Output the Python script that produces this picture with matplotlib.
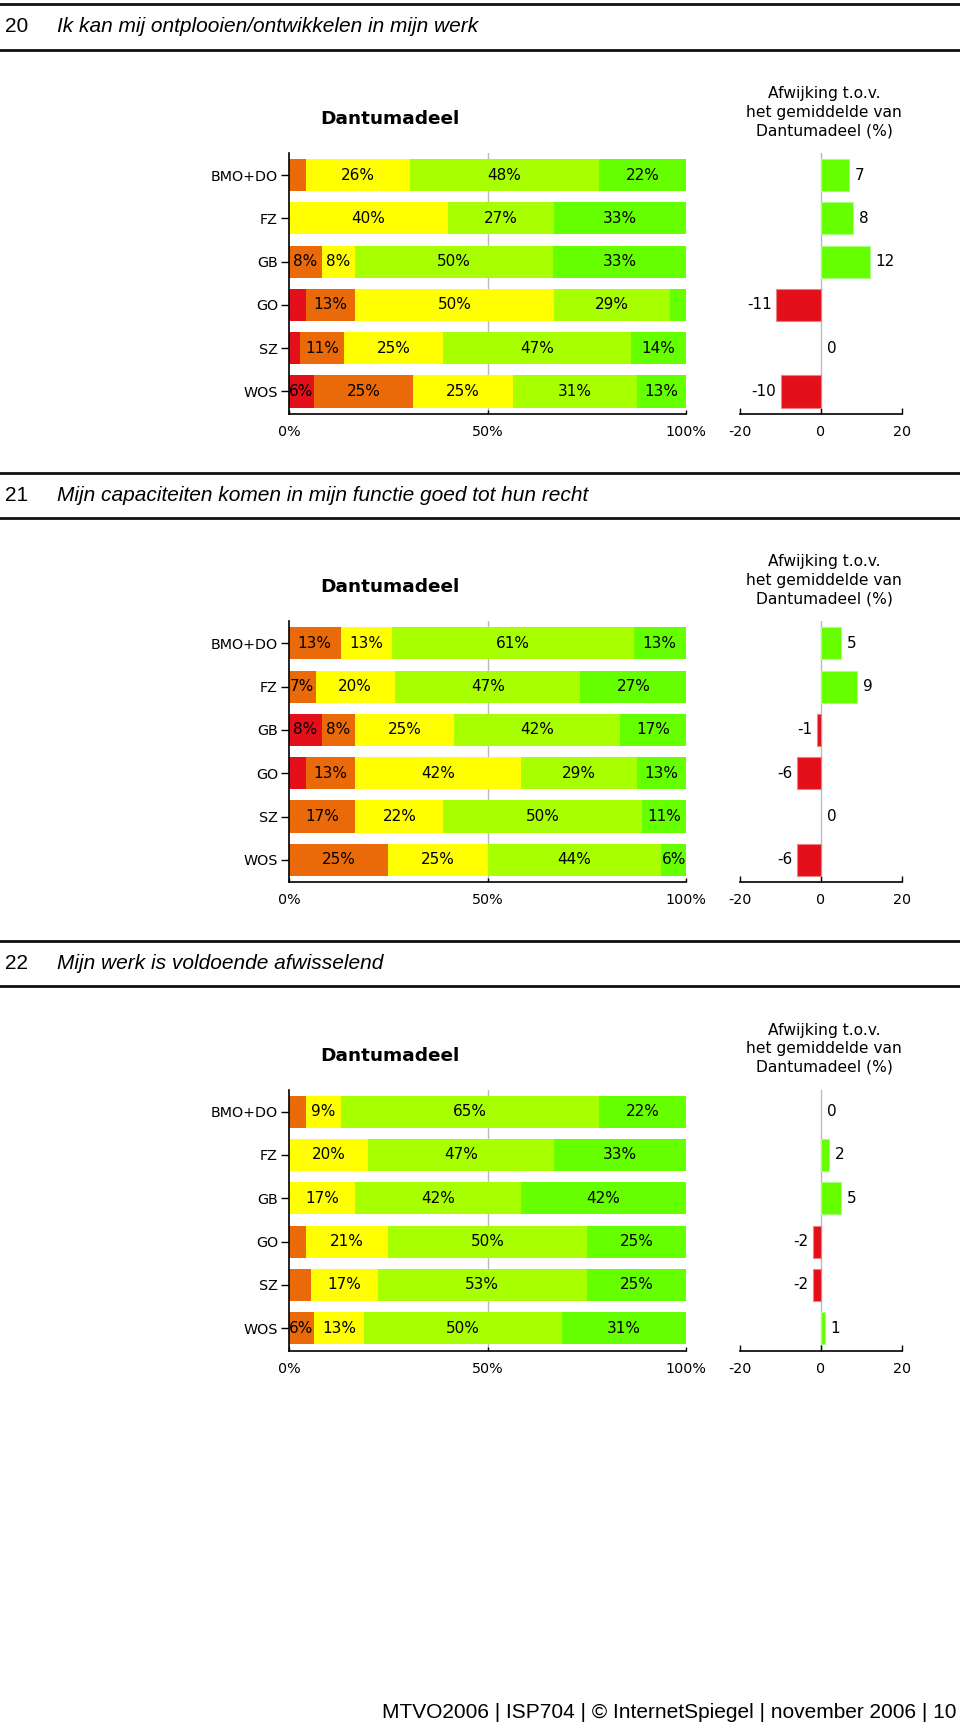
import matplotlib
matplotlib.use("Agg")
import matplotlib.pyplot as plt
from matplotlib.lines import Line2D

W, H = 960, 1728

groups = ["BMO+DO", "FZ", "GB", "GO", "SZ", "WOS"]
# answer categories: very negative .. very positive
cat_colors = ["#e3101b", "#ea6a0a", "#ffff00", "#a8ff00", "#66ff00"]

numbers = ["20", "21", "22"]
questions = ["Ik kan mij ontplooien/ontwikkelen in mijn werk",
             "Mijn capaciteiten komen in mijn functie goed tot hun recht",
             "Mijn werk is voldoende afwisselend"]

# percentage per category, one row per group
q20 = [[0, 4.3, 26.1, 47.8, 21.7],
       [0, 0, 40.0, 26.7, 33.3],
       [0, 8.3, 8.3, 50.0, 33.3],
       [4.2, 12.5, 50.0, 29.2, 4.2],
       [2.8, 11.1, 25.0, 47.2, 13.9],
       [6.3, 25.0, 25.0, 31.3, 12.5]]
q21 = [[0, 13.0, 13.0, 60.9, 13.0],
       [0, 6.7, 20.0, 46.7, 26.7],
       [8.3, 8.3, 25.0, 41.7, 16.7],
       [4.2, 12.5, 41.7, 29.2, 12.5],
       [0, 16.7, 22.2, 50.0, 11.1],
       [0, 25.0, 25.0, 43.8, 6.3]]
q22 = [[0, 4.3, 8.7, 65.2, 21.7],
       [0, 0, 20.0, 46.7, 33.3],
       [0, 0, 16.7, 41.7, 41.7],
       [0, 4.2, 20.8, 50.0, 25.0],
       [0, 5.6, 16.7, 52.8, 25.0],
       [0, 6.3, 12.5, 50.0, 31.3]]

# deviation from the Dantumadeel average (%)
dev20 = [7, 8, 12, -11, 0, -10]
dev21 = [5, 9, -1, -6, 0, -6]
dev22 = [0, 2, 5, -2, -2, 1]

shares = [q20, q21, q22]
devs = [dev20, dev21, dev22]

fig = plt.figure(figsize=(W / 100, H / 100), dpi=100)
fig.patch.set_facecolor("white")


def px_axes(l, t, r, b):
    return fig.add_axes([l / W, 1 - b / H, (r - l) / W, (b - t) / H])


def rule(y):
    fig.add_artist(Line2D([0, 1], [1 - y / H, 1 - y / H], color="#111111",
                          lw=2.0, transform=fig.transFigure))


step = 468.3
ypos = list(range(len(groups)))
fs = 10.3

for k in range(3):
    dy = step * k

    # section header
    rule(4.4 + dy)
    rule(49.6 + dy)
    fig.text(5 / W, 1 - (27 + dy) / H, numbers[k], fontsize=15,
             family="Liberation Sans", va="center", ha="left")
    fig.text(57 / W, 1 - (27 + dy) / H, questions[k], fontsize=15,
             family="Liberation Sans", style="italic", va="center", ha="left")

    # stacked bars
    ax = px_axes(289, 153 + dy, 686, 414 + dy)
    left = [0.0] * len(groups)
    for c in range(5):
        vals = [row[c] for row in shares[k]]
        ax.barh(ypos, vals, left=left, height=0.74, color=cat_colors[c],
                zorder=2)
        for i, v in enumerate(vals):
            if v >= 6:
                ax.text(left[i] + v / 2, i, "%d%%" % int(v + 0.5),
                        ha="center", va="center", fontsize=11, zorder=3)
        left = [a + b for a, b in zip(left, vals)]
    ax.axvline(50, color="#bbbbbb", lw=1, zorder=1)
    ax.set_xlim(0, 100)
    ax.set_ylim(5.52, -0.51)
    ax.set_yticks(ypos)
    ax.set_yticklabels(groups, fontsize=fs)
    ax.set_xticks([0, 50, 100])
    ax.set_xticklabels(["0%", "50%", "100%"], fontsize=fs)
    ax.tick_params(axis="y", direction="out", length=6, width=1, pad=2)
    ax.tick_params(axis="x", direction="in", length=3, width=1, pad=8)
    for s in ["top", "right"]:
        ax.spines[s].set_visible(False)
    for s in ["left", "bottom"]:
        ax.spines[s].set_linewidth(1.2)

    fig.text(390 / W, 1 - (119 + dy) / H, "Dantumadeel", fontsize=13.3,
             fontweight="bold", ha="center", va="center")

    # deviation bars
    ax2 = px_axes(740, 153 + dy, 902, 414 + dy)
    d = devs[k]
    dcol = ["#66ff00" if v > 0 else "#e3101b" for v in d]
    dedge = ["#a6ff80" if v > 0 else "#f08080" for v in d]
    dlw = [0.8 if v != 0 else 0 for v in d]
    ax2.barh(ypos, d, height=0.74, color=dcol, edgecolor=dedge, lw=dlw,
             zorder=2)
    ax2.axvline(0, color="#bbbbbb", lw=1, zorder=1)
    for i, v in enumerate(d):
        if v < 0:
            ax2.annotate(str(v), (v, i), xytext=(-3, 0),
                         textcoords="offset points", ha="right",
                         va="center", fontsize=11)
        else:
            ax2.annotate(str(v), (v, i), xytext=(4, 0),
                         textcoords="offset points", ha="left",
                         va="center", fontsize=11)
    ax2.set_xlim(-20, 20)
    ax2.set_ylim(5.52, -0.51)
    ax2.set_yticks([])
    ax2.set_xticks([-20, 0, 20])
    ax2.set_xticklabels(["-20", "0", "20"], fontsize=fs)
    ax2.tick_params(axis="x", direction="in", length=4, width=1, pad=8)
    for s in ["top", "right", "left"]:
        ax2.spines[s].set_visible(False)
    ax2.spines["bottom"].set_linewidth(1.2)

    fig.text(824 / W, 1 - (112 + dy) / H,
             "Afwijking t.o.v.\nhet gemiddelde van\nDantumadeel (%)",
             fontsize=11.2, ha="center", va="center", linespacing=1.3)

fig.text(957 / W, 1 - 1712 / H,
         "MTVO2006 | ISP704 | \u00a9 InternetSpiegel | november 2006 | 10",
         fontsize=15, family="Liberation Sans", ha="right", va="center")

fig.savefig("out.png", dpi=100)
